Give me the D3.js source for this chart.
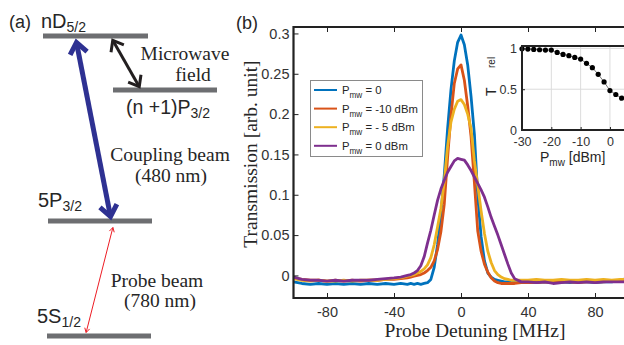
<!DOCTYPE html>
<html><head><meta charset="utf-8">
<script src="https://cdn.jsdelivr.net/npm/d3@7"></script>
<style>body{margin:0;background:#fff}svg{display:block}</style>
</head><body>
<script>
// ---------- DATA ----------
const detuning = [-100,-95,-90,-85,-80,-75,-70,-65,-60,-55,-50,-45,-40,-36,-32,
  -30,-28,-26,-24,-22,-20,-18,-16,-14,-12,-10,-8,-6,-4,-2,0,2,4,6,8,10,12,14,16,18,20,22,24,26,28,30,
  32,36,40,45,50,55,60,65,70,75,80,85,90,95,100];
const seriesNames = ["= 0", "= -10 dBm", "= - 5 dBm", "= 0 dBm"];
const trans0 = [-0.008,-0.010,-0.011,-0.010,-0.011,-0.010,-0.011,-0.010,-0.011,-0.010,-0.011,-0.010,-0.011,-0.010,-0.011,
  -0.010,-0.011,-0.010,-0.011,-0.010,-0.009,-0.005,0.010,0.038,0.076,0.124,0.182,0.230,0.266,0.289,0.298,0.286,0.261,0.222,0.175,0.098,0.048,0.018,0.003,-0.002,-0.005,-0.006,-0.007,-0.008,-0.008,-0.009,
  -0.008,-0.009,-0.008,-0.009,-0.008,-0.009,-0.008,-0.009,-0.008,-0.008,-0.009,-0.008,-0.008,-0.006,-0.003];
const transM10 = [-0.003,-0.005,-0.006,-0.006,-0.007,-0.006,-0.007,-0.006,-0.007,-0.006,-0.006,-0.005,-0.005,-0.004,-0.003,
  -0.002,-0.001,0.000,0.001,0.003,0.006,0.010,0.018,0.032,0.054,0.088,0.146,0.198,0.238,0.256,0.261,0.242,0.210,0.172,0.115,0.055,0.030,0.014,0.004,-0.003,-0.007,-0.009,-0.010,-0.010,-0.010,-0.010,
  -0.010,-0.009,-0.009,-0.009,-0.008,-0.009,-0.008,-0.008,-0.009,-0.008,-0.008,-0.008,-0.007,-0.007,-0.006];
const transM5 = [-0.004,-0.006,-0.007,-0.006,-0.007,-0.007,-0.006,-0.007,-0.006,-0.006,-0.006,-0.005,-0.004,-0.003,-0.001,
  0.000,0.001,0.003,0.005,0.008,0.013,0.022,0.038,0.060,0.083,0.116,0.160,0.190,0.206,0.216,0.218,0.212,0.200,0.182,0.142,0.112,0.080,0.052,0.030,0.016,0.006,0.001,-0.002,-0.004,-0.005,-0.006,
  -0.006,-0.006,-0.006,-0.005,-0.006,-0.006,-0.005,-0.006,-0.006,-0.005,-0.006,-0.005,-0.006,-0.005,-0.005];
const trans0dBm = [-0.002,-0.005,-0.006,-0.006,-0.007,-0.006,-0.007,-0.006,-0.006,-0.006,-0.005,-0.004,-0.003,-0.002,0.000,
  0.001,0.003,0.006,0.012,0.023,0.040,0.056,0.075,0.093,0.107,0.118,0.128,0.135,0.142,0.145,0.144,0.143,0.137,0.130,0.122,0.114,0.106,0.097,0.085,0.072,0.061,0.050,0.038,0.026,0.014,0.003,
  -0.004,-0.008,-0.008,-0.009,-0.008,-0.010,-0.009,-0.008,-0.009,-0.008,-0.009,-0.008,-0.008,-0.008,-0.008];
const xTicks = [-80,-40,0,40,80];
const yTicks = [0,0.05,0.1,0.15,0.2,0.25,0.3];
// inset
const pmw = [-30,-28,-26,-24,-22,-20,-18,-16,-14,-12,-10,-8,-6,-4,-2,0,2,4];
const trel = [0.996,0.992,0.988,0.984,0.98,0.98,0.951,0.927,0.911,0.89,0.87,0.817,0.764,0.683,0.589,0.484,0.435,0.39];
const insetXTicks = [-30,-20,-10,0];
const insetYTicks = [0,0.5,1];

// ---------- STYLE ----------
const colors = ["#0072BD","#D95319","#EDB120","#7E2F8E"];
const SANS = "'Liberation Sans', Arial, sans-serif";
const SERIF = "'Liberation Serif', 'Times New Roman', serif";
const TXT = "#262626";

const svg = d3.select("body").append("svg").attr("width",624).attr("height",345);

// ---------- PANEL (a): level diagram ----------
const ga = svg.append("g");
const levelLayout = [
  {x0:43,x1:148,y:36},   // nD5/2
  {x0:113,x1:217,y:90},  // (n+1)P3/2
  {x0:48,x1:152,y:221},  // 5P3/2
  {x0:47,x1:151,y:336}   // 5S1/2
];
levelLayout.forEach(l => ga.append("line").attr("x1",l.x0).attr("x2",l.x1).attr("y1",l.y).attr("y2",l.y)
  .attr("stroke","#6d6e71").attr("stroke-width",5));

function arrow(g,x1,y1,x2,y2,color,w,head,ang){
  const dx=x2-x1, dy=y2-y1, L=Math.hypot(dx,dy), ux=dx/L, uy=dy/L;
  g.append("line").attr("x1",x1+ux*w*0.6).attr("y1",y1+uy*w*0.6).attr("x2",x2-ux*w*0.6).attr("y2",y2-uy*w*0.6)
    .attr("stroke",color).attr("stroke-width",w);
  [[x1,y1,-ux,-uy],[x2,y2,ux,uy]].forEach(([tx,ty,vx,vy])=>{
    const a=ang*Math.PI/180;
    const r1=[vx*Math.cos(a)-vy*Math.sin(a), vx*Math.sin(a)+vy*Math.cos(a)];
    const r2=[vx*Math.cos(-a)-vy*Math.sin(-a), vx*Math.sin(-a)+vy*Math.cos(-a)];
    const tx2=tx-vx*w*0.5, ty2=ty-vy*w*0.5;
    g.append("path").attr("d",`M${tx2-r1[0]*head},${ty2-r1[1]*head}L${tx2},${ty2}L${tx2-r2[0]*head},${ty2-r2[1]*head}`)
      .attr("fill","none").attr("stroke",color).attr("stroke-width",w).attr("stroke-linejoin","miter");
  });
}
arrow(ga,76,40,111,219,"#2e3192",5,14,38);
arrow(ga,112,39,140,88,"#231f20",3,12,38);
arrow(ga,113,227,86,333,"#ed1c24",1,5,30);

function rich(g,x,y,main,sub,fs,sfs,family){
  const t=g.append("text").attr("x",x).attr("y",y).attr("font-family",family||SANS).attr("font-size",fs).attr("fill",TXT);
  t.append("tspan").text(main);
  if(sub) t.append("tspan").attr("dy",fs*0.22).attr("font-size",sfs).text(sub);
  return t;
}
ga.append("text").attr("x",9).attr("y",28).attr("font-family",SANS).attr("font-size",18).attr("fill",TXT).text("(a)");
rich(ga,41,28,"nD","5/2",20,14);
rich(ga,126,114,"(n +1)P","3/2",19.5,14);
rich(ga,38,207,"5P","3/2",20,14);
rich(ga,37,323,"5S","1/2",20,14);
const serifLabels = [
  {t:"Microwave",x:185,y:60},{t:"field",x:193,y:81},
  {t:"Coupling beam",x:170,y:161},{t:"(480 nm)",x:171,y:182},
  {t:"Probe beam",x:157,y:287},{t:"(780 nm)",x:160,y:307}
];
serifLabels.forEach(s=>ga.append("text").attr("x",s.x).attr("y",s.y).attr("text-anchor","middle")
  .attr("font-family",SERIF).attr("font-size",19.5).attr("fill",TXT).text(s.t));

// ---------- PANEL (b): main chart ----------
const x = d3.scaleLinear().domain([-100,100]).range([293.5,628.5]);
const y = d3.scaleLinear().domain([-0.028,0.308]).range([298,27]);
const gb = svg.append("g");
gb.append("text").attr("x",236).attr("y",29).attr("font-family",SANS).attr("font-size",18).attr("fill",TXT).text("(b)");

svg.append("defs").append("clipPath").attr("id","clipMain").append("rect")
  .attr("x",x(-100)).attr("y",y(0.308)).attr("width",x(100)-x(-100)).attr("height",y(-0.028)-y(0.308));

const series=[trans0,transM10,transM5,trans0dBm];
const line=d3.line().x((d,i)=>x(detuning[i])).y(d=>y(d));
const gl=gb.append("g").attr("clip-path","url(#clipMain)");
series.forEach((s,k)=>gl.append("path").datum(s).attr("d",line).attr("fill","none")
  .attr("stroke",colors[k]).attr("stroke-width",2.8).attr("stroke-linejoin","round"));

// axes
const ax = gb.append("g").attr("font-family",SANS);
const yAxis = d3.axisLeft(y).tickValues(yTicks).tickSizeInner(-5).tickSizeOuter(0).tickPadding(4)
  .tickFormat(d=>d===0?"0":String(+d.toFixed(2)));
ax.append("g").attr("transform",`translate(${x(-100)},0)`).call(yAxis)
  .call(g=>{g.select(".domain").remove();g.selectAll("text").attr("font-size",14.5).attr("fill","#333");g.selectAll("line").attr("stroke","#222").attr("stroke-width",1);});
const xAxis = d3.axisBottom(x).tickValues(xTicks).tickSizeInner(-5).tickSizeOuter(0).tickPadding(9).tickFormat(d=>String(d));
ax.append("g").attr("transform",`translate(0,${y(-0.028)})`).call(xAxis)
  .call(g=>{g.select(".domain").remove();g.selectAll("text").attr("font-size",14.5).attr("fill","#333");g.selectAll("line").attr("stroke","#222").attr("stroke-width",1);});
const xTop = d3.axisTop(x).tickValues(xTicks).tickSizeInner(-5).tickSizeOuter(0).tickFormat("");
ax.append("g").attr("transform",`translate(0,${y(0.308)})`).call(xTop)
  .call(g=>{g.select(".domain").remove();g.selectAll("line").attr("stroke","#222").attr("stroke-width",1);});
// frame
gb.append("path").attr("d",`M${x(100)},${y(0.308)}H${x(-100)}V${y(-0.028)}H${x(100)}`)
  .attr("fill","none").attr("stroke","#222").attr("stroke-width",2.2);

gb.append("text").attr("transform",`translate(257,154) rotate(-90)`).attr("text-anchor","middle")
  .attr("font-family",SERIF).attr("font-size",19.5).attr("fill",TXT).text("Transmission [arb. unit]");
gb.append("text").attr("x",475).attr("y",337).attr("text-anchor","middle")
  .attr("font-family",SERIF).attr("font-size",19.5).attr("fill",TXT).text("Probe Detuning [MHz]");

// legend
const lg = gb.append("g");
lg.append("rect").attr("x",310.5).attr("y",80.5).attr("width",112).attr("height",76)
  .attr("fill","#fff").attr("stroke","#8a8a8a").attr("stroke-width",1);
seriesNames.forEach((n,k)=>{
  const ly=90+k*18.6;
  lg.append("line").attr("x1",314).attr("x2",337).attr("y1",ly).attr("y2",ly).attr("stroke",colors[k]).attr("stroke-width",2);
  const t=lg.append("text").attr("x",342).attr("y",ly+4).attr("font-family",SANS).attr("font-size",11.3).attr("fill",TXT);
  t.append("tspan").text("P");
  t.append("tspan").attr("dy",4).attr("font-size",8.2).text("mw");
  t.append("tspan").attr("dy",-4).text(" "+n);
});

// ---------- inset ----------
const xi = d3.scaleLinear().domain([-30,5]).range([522,624.6]);
const yi = d3.scaleLinear().domain([0,1.03]).range([130,46]);
const gi = svg.append("g");
gi.append("rect").attr("x",xi(-30)).attr("y",yi(1.03)).attr("width",xi(5)-xi(-30)+10).attr("height",yi(0)-yi(1.03))
  .attr("fill","#fff");
insetXTicks.slice(1).forEach(v=>gi.append("line").attr("x1",xi(v)).attr("x2",xi(v)).attr("y1",yi(0)).attr("y2",yi(1.03))
  .attr("stroke","#dcdcdc").attr("stroke-width",1));
[0.5,1].forEach(v=>gi.append("line").attr("x1",xi(-30)).attr("x2",xi(5)+10).attr("y1",yi(v)).attr("y2",yi(v))
  .attr("stroke","#dcdcdc").attr("stroke-width",1));
const ixa = d3.axisBottom(xi).tickValues(insetXTicks).tickSizeInner(-3).tickSizeOuter(0).tickPadding(7).tickFormat(d=>String(d));
gi.append("g").attr("transform",`translate(0,${yi(0)})`).call(ixa)
  .call(g=>{g.select(".domain").remove();g.selectAll("text").attr("font-family",SANS).attr("font-size",12.5).attr("fill","#333");g.selectAll("line").attr("stroke","#222");});
const iya = d3.axisLeft(yi).tickValues(insetYTicks).tickSizeInner(-3).tickSizeOuter(0).tickPadding(5).tickFormat(d=>String(d));
gi.append("g").attr("transform",`translate(${xi(-30)},0)`).call(iya)
  .call(g=>{g.select(".domain").remove();g.selectAll("text").attr("font-family",SANS).attr("font-size",12.5).attr("fill","#333");g.selectAll("line").attr("stroke","#222");});
gi.append("path").datum(trel).attr("d",d3.line().x((d,i)=>xi(pmw[i])).y(d=>yi(d)))
  .attr("fill","none").attr("stroke","#555").attr("stroke-width",0.8);
gi.selectAll("circle").data(trel).join("circle").attr("cx",(d,i)=>xi(pmw[i])).attr("cy",d=>yi(d)).attr("r",2.6).attr("fill","#000");
gi.append("path").attr("d",`M${xi(5)+10},${yi(1.03)}H${xi(-30)}V${yi(0)}H${xi(5)+10}`)
  .attr("fill","none").attr("stroke","#222").attr("stroke-width",2);
// inset labels
const ixl = gi.append("text").attr("x",540).attr("y",162).attr("font-family",SANS).attr("font-size",14).attr("fill",TXT);
ixl.append("tspan").text("P");
ixl.append("tspan").attr("dy",4).attr("font-size",10).text("mw");
ixl.append("tspan").attr("dy",-4).text(" [dBm]");
gi.append("text").attr("transform","translate(496,96) rotate(-90)").attr("font-family",SANS).attr("font-size",14).attr("fill",TXT).text("T");
gi.append("text").attr("transform","translate(495,68) rotate(-90)").attr("font-family",SANS).attr("font-size",10).attr("fill",TXT).text("rel");
</script>
</body></html>
